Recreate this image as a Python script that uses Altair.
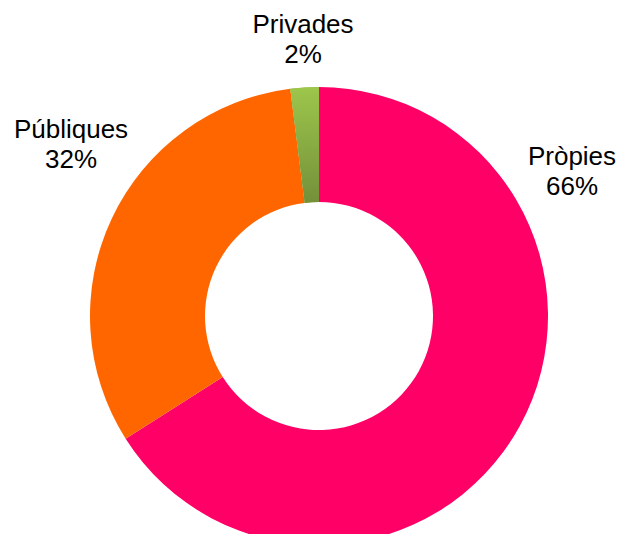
import altair as alt
import pandas as pd

categories = ["Pròpies", "Públiques", "Privades"]
values = [66, 32, 2]
pct_labels = ["66%", "32%", "2%"]
colors = ["#FF0066", "#FF6600", "#8DB543"]

df = pd.DataFrame({"cat": categories, "val": values, "pct": pct_labels, "ord": [0, 1, 2]})

base = alt.Chart(df).transform_window(
    end="sum(val)", sort=[alt.SortField("ord")]
).transform_calculate(start="datum.end - datum.val")

CX, CY = 311, 308
theta_scale = alt.Scale(domain=[0, 100], range=[0, 6.283185307])

arcs = base.mark_arc(innerRadius=114, outerRadius=229, stroke=None).encode(
    theta=alt.Theta("start:Q", scale=theta_scale),
    theta2="end:Q",
    color=alt.Color("cat:N", scale=alt.Scale(domain=categories, range=colors), legend=None),
    x=alt.value(CX), y=alt.value(CY),
)

green = base.transform_filter(alt.datum.cat == "Privades").mark_arc(
    innerRadius=114, outerRadius=229,
    color=alt.Gradient(gradient="linear", x1=0, x2=0, y1=0, y2=1,
                       stops=[alt.GradientStop(offset=0, color="#9DC64B"),
                              alt.GradientStop(offset=1, color="#74903A")]),
).encode(
    theta=alt.Theta("start:Q", scale=theta_scale),
    theta2="end:Q",
    x=alt.value(CX), y=alt.value(CY),
)

label_pos = {"Pròpies": (564, 149), "Públiques": (63, 122), "Privades": (295, 17)}
labels = []
for c in categories:
    lx, ly = label_pos[c]
    labels.append(
        base.transform_filter(alt.datum.cat == c)
        .transform_calculate(lab="[datum.cat, datum.pct]")
        .mark_text(font="Liberation Sans", fontSize=26, lineHeight=30, color="#000000",
                   align="center", baseline="middle")
        .encode(text="lab:N", x=alt.value(lx), y=alt.value(ly))
    )

chart = alt.layer(arcs, green, *labels).properties(
    width=610, height=526, padding=0, autosize=alt.AutoSizeParams(type="none")
).configure_view(stroke=None)

chart.save("out.html", embed_options={"renderer": "svg", "actions": False})
